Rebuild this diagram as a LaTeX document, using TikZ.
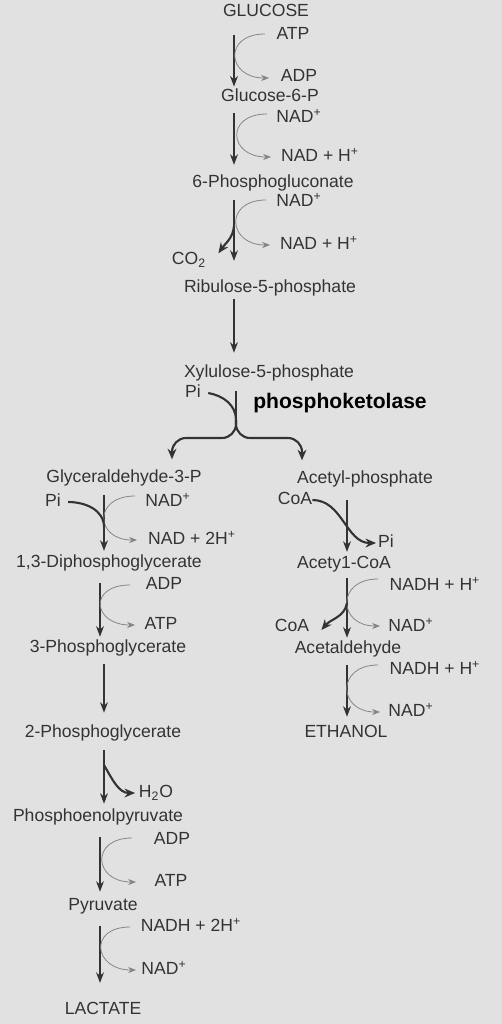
\documentclass[tikz,border=0pt]{standalone}
\usepackage{fontspec}
\setmainfont{Liberation Sans}
\usetikzlibrary{arrows.meta,calc}

\definecolor{paper}{HTML}{E1E1E1}
\definecolor{ink}{HTML}{333333}

\begin{document}
\begin{tikzpicture}[x=0.02cm, y=-0.02cm,
    chem/.style={inner sep=0pt, text=ink, font=\fontsize{10}{12}\selectfont, text height=7.5pt, text depth=2pt},
    enzyme/.style={inner sep=0pt, font=\fontsize{12}{14}\selectfont\bfseries},
    main/.style={ink, line width=0.6pt, -{Stealth[length=6pt,width=4.5pt]}},
    cofactor/.style={ink!60, line width=0.45pt, -{Stealth[length=4.5pt,width=3.5pt]}},
    heavy/.style={ink, line width=1.2pt, -{Stealth[length=6pt,width=5pt]}},
    heavyline/.style={ink, line width=1.2pt}]

    % Background
    \fill[paper] (0,0) rectangle (502,1024);

    % Columns
    \coordinate (A) at (234,0);
    \coordinate (B) at (104,0);
    \coordinate (Bb) at (100,0);
    \coordinate (C) at (347,0);

    % Draw nodes
    \node[chem] (glucose) at (266,12) {GLUCOSE};
    \node[chem] (atp1) at (293,35) {ATP};
    \node[chem] (adp1) at (299,77) {ADP};
    \node[chem] (g6p) at (270,97) {Glucose-6-P};
    \node[chem] (nad1) at (299,118) {NAD\textsuperscript{+}};
    \node[chem] (nadh1) at (320,157) {NAD + H\textsuperscript{+}};
    \node[chem] (pgluc) at (273,183) {6-Phosphogluconate};
    \node[chem] (nad2) at (299,202) {NAD\textsuperscript{+}};
    \node[chem] (nadh2) at (319,245) {NAD + H\textsuperscript{+}};
    \node[chem] (co2) at (189,260) {CO\textsubscript{2}};
    \node[chem] (ribu) at (270,288) {Ribulose-5-phosphate};
    \node[chem] (xylu) at (269,373) {Xylulose-5-phosphate};
    \node[chem] (pi1) at (193,393) {Pi};
    \node[enzyme] (enz) at (340,403) {phosphoketolase};

    \node[chem] (glyc) at (124,478) {Glyceraldehyde-3-P};
    \node[chem] (pi2) at (53,502) {Pi};
    \node[chem] (nad3) at (168,502) {NAD\textsuperscript{+}};
    \node[chem] (nadh3) at (192,540) {NAD + 2H\textsuperscript{+}};
    \node[chem] (dpg) at (109,563) {1,3-Diphosphoglycerate};
    \node[chem] (adp2) at (164,585) {ADP};
    \node[chem] (atp2) at (161,625) {ATP};
    \node[chem] (pg3) at (108,648) {3-Phosphoglycerate};
    \node[chem] (pg2) at (103,733) {2-Phosphoglycerate};
    \node[chem] (h2o) at (156,793) {H\textsubscript{2}O};
    \node[chem] (pep) at (98,817) {Phosphoenolpyruvate};
    \node[chem] (adp3) at (172,840) {ADP};
    \node[chem] (atp3) at (171,882) {ATP};
    \node[chem] (pyr) at (103,906) {Pyruvate};
    \node[chem] (nadh4) at (191,927) {NADH + 2H\textsuperscript{+}};
    \node[chem] (nad4) at (164,970) {NAD\textsuperscript{+}};
    \node[chem] (lact) at (103,1010) {LACTATE};

    \node[chem] (acp) at (365,479) {Acetyl-phosphate};
    \node[chem] (coa1) at (295,500) {CoA};
    \node[chem] (pi3) at (386,543) {Pi};
    \node[chem] (aco) at (344,564) {Acety1-CoA};
    \node[chem] (nadh5) at (435,586) {NADH + H\textsuperscript{+}};
    \node[chem] (nad5) at (411,627) {NAD\textsuperscript{+}};
    \node[chem] (coa2) at (292,627) {CoA};
    \node[chem] (ald) at (348,649) {Acetaldehyde};
    \node[chem] (nadh6) at (435,670) {NADH + H\textsuperscript{+}};
    \node[chem] (nad6) at (411,712) {NAD\textsuperscript{+}};
    \node[chem] (eth) at (346,733) {ETHANOL};

    % Junctions on the main lines
    \coordinate (j1) at (234,226);
    \coordinate (fork) at (236,420);
    \coordinate (j2) at (104,527);
    \coordinate (j3) at (104,765);
    \coordinate (j4) at (347,603);

    % Draw connections
    \draw[main, shorten <=8.3pt, shorten >=1pt] (glucose.south -| A) -- (g6p.north -| A);
    \draw[main, shorten <=4.3pt, shorten >=5.4pt] (g6p.south -| A) -- (pgluc.north -| A);
    \draw[main, shorten <=4.9pt, shorten >=10.5pt] (pgluc.south -| A) -- (ribu.north -| A);
    \draw[main, shorten <=1.5pt, shorten >=6.6pt] (ribu.south -| A) -- (xylu.north -| A);
    \draw[ink, line width=0.6pt, shorten <=5.4pt] (xylu.south -| fork) -- (fork);

    \draw[main, shorten <=4.9pt, shorten >=2pt] (glyc.south -| B) -- (dpg.north -| B);
    \draw[main, shorten <=6.6pt, shorten >=1.5pt] (dpg.south -| Bb) -- (pg3.north -| Bb);
    \draw[main, shorten <=4.3pt, shorten >=6.6pt] (pg3.south -| B) -- (pg2.north -| B);
    \draw[main, shorten <=4.9pt, shorten >=2.6pt] (pg2.south -| B) -- (pep.north -| B);
    \draw[main, shorten <=6.6pt, shorten >=3.2pt] (pep.south -| Bb) -- (pyr.north -| Bb);
    \draw[main, shorten <=6.6pt, shorten >=10.5pt] (pyr.south -| Bb) -- (lact.north -| Bb);

    \draw[main, shorten <=7.1pt, shorten >=2pt] (acp.south -| C) -- (aco.north -| C);
    \draw[main, shorten <=3.2pt, shorten >=1.5pt] (aco.south -| C) -- (ald.north -| C);
    \draw[main, shorten <=4.3pt, shorten >=4.3pt] (ald.south -| C) -- (eth.north -| C);

    % Cofactors
    \draw[cofactor] ($(atp1.west -| A)+(31,-1)$) to[out=180, in=180, distance=24pt] ($(adp1.west -| A)+(35,1)$);
    \draw[cofactor] ($(nad1.west -| A)+(33,-4)$) to[out=180, in=180, distance=24pt] ($(nadh1.west -| A)+(37,0)$);
    \draw[cofactor] ($(nad2.west -| A)+(32,-2)$) to[out=180, in=180, distance=24pt] ($(nadh2.west -| A)+(36,0)$);
    \draw[cofactor] ($(nad3.west -| B)+(31,-6)$) to[out=180, in=180, distance=24pt] ($(nadh3.west -| B)+(33,0)$);
    \draw[cofactor] ($(adp2.west -| Bb)+(30,0)$) to[out=180, in=180, distance=24pt] ($(atp2.west -| Bb)+(35,0)$);
    \draw[cofactor] ($(adp3.west -| Bb)+(32,-2)$) to[out=180, in=180, distance=24pt] ($(atp3.west -| Bb)+(36,0)$);
    \draw[cofactor] ($(nadh4.west -| Bb)+(30,0)$) to[out=180, in=180, distance=24pt] ($(nad4.west -| Bb)+(36,0)$);
    \draw[cofactor] ($(nadh5.west -| C)+(31,-7)$) to[out=180, in=180, distance=24pt] ($(nad5.west -| C)+(33,-1)$);
    \draw[cofactor] ($(nadh6.west -| C)+(31,-5)$) to[out=180, in=180, distance=24pt] ($(nad6.west -| C)+(33,0)$);

    % Heavy arrows
    \draw[heavy] (j1) to[out=-95, in=55] ([shift={(12,2)}]co2.north east);
    \draw[heavyline] ([xshift=4pt]pi1.east) to[out=-10, in=90] (fork);
    \draw[heavy, rounded corners=8pt] (fork) |- (200,438) -| ([shift={(48,-10)}]glyc.north);
    \draw[heavy, rounded corners=8pt] (fork) |- (270,438) -| ([shift={(-63,-10)}]acp.north);
    \draw[heavyline] ([xshift=4pt]pi2.east) to[out=0, in=90] (j2);
    \draw[heavy] (j3) to[out=-60, in=180] ([xshift=-2pt]h2o.west);
    \draw[heavy] (coa1.east) to[out=0, in=180] ([xshift=-1pt]pi3.west);
    \draw[heavy] (j4) to[out=-100, in=50] ([shift={(12,3)}]coa2.east);
\end{tikzpicture}
\end{document}
